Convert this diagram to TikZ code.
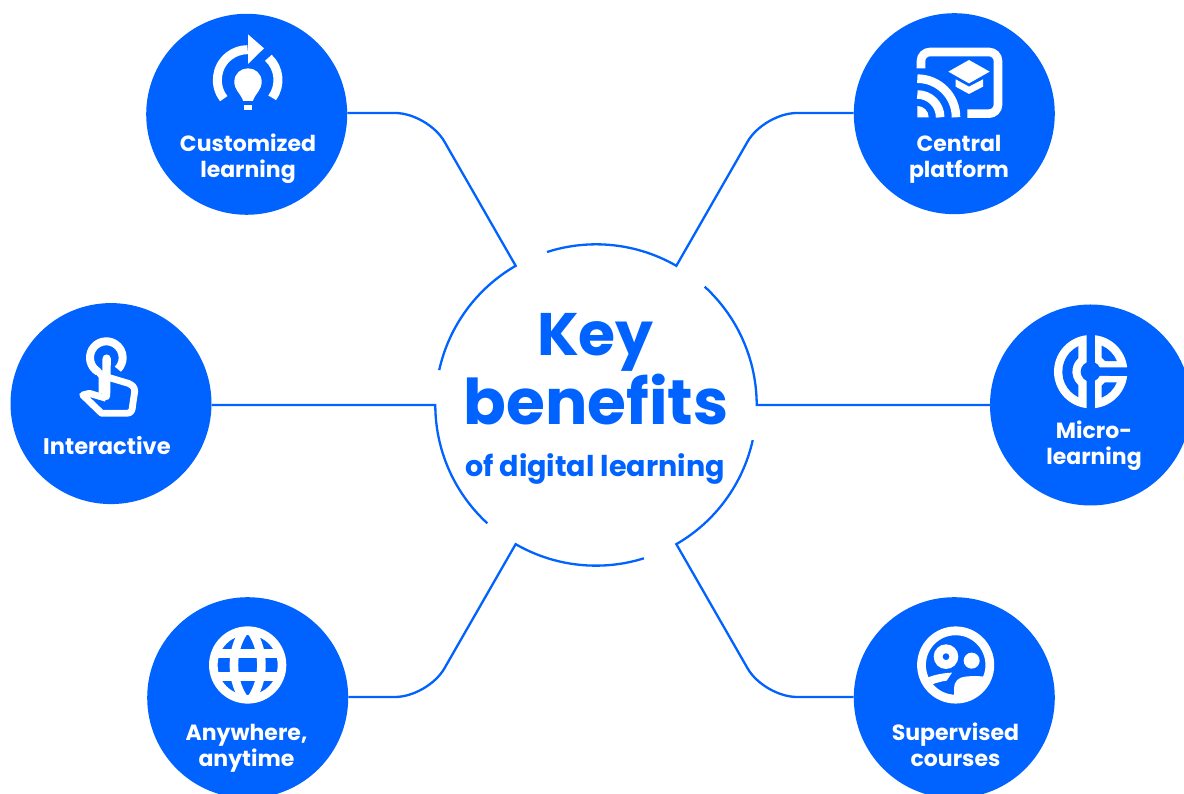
\documentclass[tikz,border=0pt]{standalone}
\usepackage{fontspec}
\setmainfont{Poppins}
\definecolor{brand}{HTML}{0062FF}
\tikzset{
  disc/.style={circle,fill=brand,draw=none,inner sep=0pt,minimum size=201pt},
  link/.style={draw=brand,line width=2.3pt,line join=miter},
  lab/.style={text=white,font=\fontsize{22}{26}\selectfont\bfseries,align=center,anchor=base,inner sep=0pt},
  hubtext/.style={text=brand,inner sep=0pt,anchor=base,font=\bfseries},
  ic/.style={fill=white,draw=none},
  ics/.style={draw=white,fill=none}
}
\begin{document}
\begin{tikzpicture}[x=1pt,y=1pt,cm={1,0,0,-1,(0,794pt)}]
\clip (0,0) rectangle (1184,794);
\fill[white] (0,0) rectangle (1184,794);
% discs
\node[disc] (c1) at (246.7,114.3) {};
\node[disc] (c2) at (954.3,113.7) {};
\node[disc] (c3) at (111,403.6) {};
\node[disc] (c4) at (1090.5,405) {};
\node[disc] (c5) at (247.7,697.7) {};
\node[disc] (c6) at (954.3,697.7) {};
\node[circle,inner sep=0pt,minimum size=321pt] (hub) at (596,405) {};
\coordinate (k1) at (428,113);
\coordinate (k2) at (764,113);
\coordinate (k5) at (428,697);
\coordinate (k6) at (764,697);
% connectors with ring arcs
\draw[link,rounded corners=33pt] (k2 -| c2.west) -- (k2) [sharp corners] -- (hub.60) arc[start angle=-60,end angle=-107.8,radius=160.5];
\draw[link] (hub.east -| c4.west) -- (hub.east) arc[start angle=0,end angle=-47.5,radius=160.5];
\draw[link,rounded corners=33pt] (k6 -| c6.west) -- (k6) [sharp corners] -- (hub.-60) arc[start angle=60,end angle=12.6,radius=160.5];
\draw[link,rounded corners=33pt] (k5 -| c5.east) -- (k5) [sharp corners] -- (hub.-120) arc[start angle=120,end angle=72.6,radius=160.5];
\draw[link] (hub.west -| c3.east) -- (hub.west) arc[start angle=180,end angle=132.5,radius=160.5];
\draw[link,rounded corners=33pt] (k1 -| c1.east) -- (k1) [sharp corners] -- (hub.120) arc[start angle=240,end angle=192.5,radius=160.5];
% hub text
\node[hubtext,font=\fontsize{60}{60}\selectfont\bfseries] (h1) at (595.5,356) {Key};
\node[hubtext,font=\fontsize{63}{63}\selectfont\bfseries] (h2) at (596,425) {benefits};
\node[hubtext,font=\fontsize{28.6}{28.6}\selectfont\bfseries] (h3) at (595,477) {of digital learning};
% labels
\node[lab] (t1) at (248,177.5) {Customized\\learning};
\node[lab] (t2) at (959,177.5) {Central\\platform};
\node[lab,font=\fontsize{22.6}{26}\selectfont\bfseries] (t3) at (107,454.5) {Interactive};
\node[lab] (t4) at (1094,464.5) {Micro-\\learning};
\node[lab] (t5) at (246.5,766.5) {Anywhere,\\anytime};
\node[lab] (t6) at (955.5,766.5) {Supervised\\courses};
% icon 1
\begin{scope}[shift={(146,10)},scale=1/3]
  \draw[ics,line width=9pt] (305,210)++(142:91) arc[start angle=142,end angle=270,radius=91];
  \draw[ics,line width=9pt] (305,210)++(-47:91) arc[start angle=-47,end angle=36,radius=91];
  \fill[ic] (306,73) -- (354,115) -- (306,162) -- cycle;
  \fill[ic] (292,273) .. controls (280,245) and (265,240) .. (265,215) .. controls (265,190) and (285,175) .. (306,175) .. controls (327,175) and (347,190) .. (347,215) .. controls (347,240) and (332,245) .. (320,273) -- cycle;
  \fill[ic] (295,285) rectangle (318,301);
\end{scope}
% icon 2
\begin{scope}[shift={(850,10)},scale=1/3]
  \draw[ics,line width=8.6pt,rounded corners=9] (213,175) -- (213,126) -- (444,126) -- (444,311) -- (352,311);
  \draw[ics,line width=8.6pt] (202,206) arc[start angle=-90,end angle=0,radius=116];
  \draw[ics,line width=8.6pt] (202,253.5) arc[start angle=-90,end angle=0,radius=68.5];
  \fill[ic] (202,322) -- (202,288) arc[start angle=-90,end angle=0,radius=34] -- cycle;
  \fill[ic] (295,185) -- (357,150) -- (419,185) -- (357,220) -- cycle;
  \fill[ic] (317,208) -- (357,230) -- (399,208) -- (399,230) -- (357,252) -- (317,230) -- cycle;
\end{scope}
% icon 3
\begin{scope}[shift={(70,330)},scale=1/3]
  \draw[ics,line width=8pt] (109,83)++(120:49) arc[start angle=120,end angle=405,radius=49];
  \draw[ics,line width=8.4pt,line cap=round] (110,86) -- (108,198);
  \draw[ics,line width=7pt,line join=round] (84,124) -- (96,138) -- (96,190);
  \draw[ics,line width=6.8pt,line join=round] (108,205) -- (58,190) -- (38,195) -- (95,250) -- (170,250) .. controls (185,250) and (187,240) .. (188,225) -- (194,185) .. controls (195,170) and (185,165) .. (175,160) -- (118,143);
\end{scope}
% icon 4
\begin{scope}[shift={(1045,330)},scale=1/3]
  \fill[ic] (125,15.7) arc[start angle=263.7,end angle=96.3,radius=110] -- cycle;
  \fill[brand] (100,48.5) arc[start angle=244.2,end angle=115.8,radius=85] -- (100,165.7) arc[start angle=132.3,end angle=227.7,radius=55] -- cycle;
  \fill[ic] (150,15.7) arc[start angle=-83.3,end angle=-6.8,radius=110] -- (150,112) -- cycle;
  \fill[ic] (150,234.3) arc[start angle=83.3,end angle=6.8,radius=110] -- (150,138) -- cycle;
  \fill[brand] (170,46.8) arc[start angle=-67,end angle=-22,radius=85] -- (180,93) -- (170,83) -- cycle;
  \fill[brand] (170,203.2) arc[start angle=67,end angle=22,radius=85] -- (180,157) -- (170,167) -- cycle;
  \fill[brand] (137,125) circle[radius=30];
\end{scope}
% icon 5
\begin{scope}[shift={(146,590)},scale=1/3]
  \begin{scope}
    \clip (305,225) circle[radius=108];
    \draw[ics,line width=8.6pt] (305,110) .. controls (250,170) and (250,280) .. (305,340);
    \draw[ics,line width=8.6pt] (305,110) .. controls (360,170) and (360,280) .. (305,340);
    \draw[ics,line width=8.6pt] (190,190) -- (420,190);
    \draw[ics,line width=8.6pt] (190,259) -- (420,259);
  \end{scope}
  \draw[ics,line width=8.6pt] (305,225) circle[radius=103];
\end{scope}
% icon 6
\begin{scope}[shift={(910,620)},scale=1/3]
  \draw[ics,line width=8.8pt] (137,135) circle[radius=102.5];
  \draw[ics,line width=8.8pt] (108,110) circle[radius=23.5];
  \fill[ic] (185,122) circle[radius=24];
  \fill[ic] (55,172) .. controls (75,164) and (100,159) .. (126,158) -- (110,182) .. controls (95,184) and (80,188) .. (67,193) -- cycle;
  \fill[ic] (132,240) -- (132,205) .. controls (132,185) and (145,172) .. (165,170) .. controls (190,167) and (215,168) .. (232,172) -- (225,190) -- (170,240) -- cycle;
\end{scope}
\end{tikzpicture}
\end{document}
